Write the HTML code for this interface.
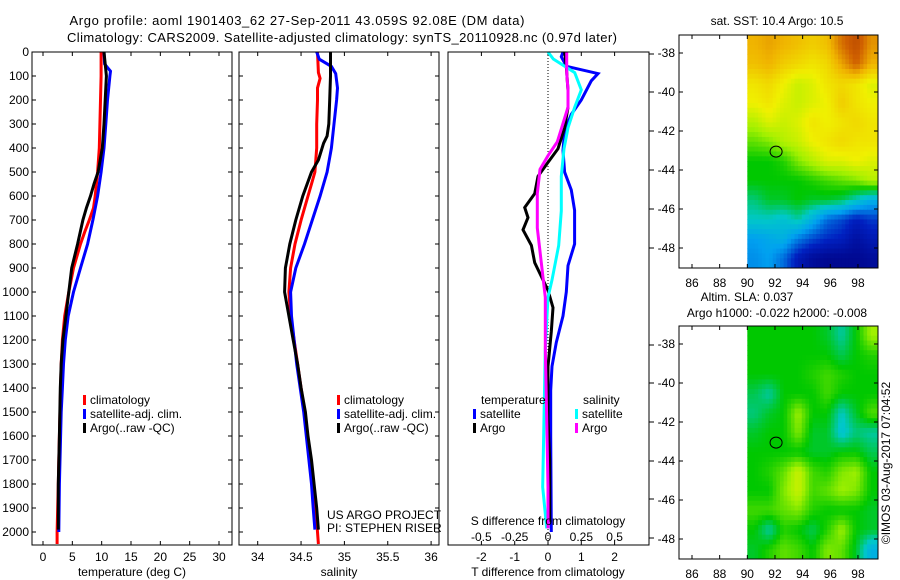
<!DOCTYPE html>
<html><head><meta charset="utf-8"><style>
html,body{margin:0;padding:0;background:#fff;}
svg{display:block;font-family:"Liberation Sans",Arial,sans-serif;}
text{font-size:12px;fill:#000;}
</style></head><body>
<svg id="fig" xmlns="http://www.w3.org/2000/svg" width="900" height="580" viewBox="0 0 900 580">
<rect width="900" height="580" fill="#fff"/>
<text x="297" y="25" text-anchor="middle" style="font-size:13px" textLength="455">Argo profile: aoml 1901403_62 27-Sep-2011 43.059S 92.08E (DM data)</text>
<text x="342" y="42" text-anchor="middle" style="font-size:13px" textLength="550">Climatology: CARS2009. Satellite-adjusted climatology: synTS_20110928.nc (0.97d later)</text>
<g id="layer"></g>
</svg>
<script>
// ---------- data ----------
const depthTicks=[0,100,200,300,400,500,600,700,800,900,1000,1100,1200,1300,1400,1500,1600,1700,1800,1900,2000];
const tTickLabels=[0,5,10,15,20,25,30];
const sTickLabels=[34,34.5,35,35.5,36];
const dtTickLabels=[-2,-1,0,1,2];
const dsTickLabels=[-0.5,-0.25,0,0.25,0.5];
const dsTickText=["-0.5","-0.25","0","0.25","0.5"];

const tClimDepth=[0,100,200,300,400,500,600,650,700,750,800,900,1000,1100,1200,1300,1400,1500,1600,1700,1800,1900,2000,2050];
const tClim=[9.9,9.9,9.8,9.7,9.6,9.3,8.9,8.6,7.9,7.1,6.4,5.2,4.4,3.7,3.3,3.1,3.0,2.9,2.8,2.7,2.6,2.5,2.4,2.4];
const tSatDepth=[0,50,65,80,100,200,300,400,500,600,700,800,900,1000,1100,1200,1300,1400,1500,1700,1800,2000];
const tSat=[10.4,10.5,11.0,11.5,11.4,11.0,10.7,10.4,9.9,9.3,8.5,7.6,6.4,5.2,4.3,3.8,3.5,3.3,3.1,2.9,2.8,2.7];
const tArgoDepth=[0,50,100,200,300,400,500,550,600,650,700,800,900,1000,1100,1200,1300,1400,1600,1800,1990];
const tArgo=[10.4,10.6,10.8,10.6,10.4,10.1,9.4,8.7,8.1,7.4,6.8,5.9,4.9,4.4,3.9,3.4,3.1,2.95,2.8,2.6,2.6];

const sClimDepth=[0,86,110,150,200,300,400,500,550,600,700,800,900,1000,1100,1200,1300,1400,1500,1600,1700,1800,1900,2000,2050];
const sClim=[34.69,34.70,34.72,34.69,34.69,34.68,34.68,34.66,34.62,34.58,34.50,34.43,34.38,34.36,34.38,34.42,34.46,34.50,34.54,34.57,34.61,34.64,34.67,34.69,34.70];
const sSatDepth=[0,30,60,90,150,200,300,400,500,600,700,800,900,1000,1100,1200,1300,1400,1500,1600,1700,1800,1900,1990];
const sSat=[34.68,34.71,34.85,34.90,34.92,34.91,34.88,34.85,34.80,34.72,34.63,34.54,34.44,34.38,34.39,34.42,34.45,34.49,34.53,34.56,34.59,34.62,34.64,34.66];
const sArgoDepth=[0,100,200,300,350,380,450,500,600,700,800,900,1000,1100,1200,1300,1400,1500,1600,1700,1800,1900,1990];
const sArgo=[34.84,34.84,34.83,34.82,34.80,34.76,34.70,34.62,34.52,34.44,34.37,34.32,34.31,34.36,34.41,34.46,34.50,34.55,34.58,34.62,34.65,34.68,34.70];

const dtSatDepth=[0,20,45,60,90,120,200,260,330,410,500,575,660,800,890,1000,1100,1210,1310,1410,1600,2000];
const dtSat=[0.45,0.4,0.5,0.57,1.5,1.3,1.0,0.7,0.5,0.45,0.5,0.7,0.8,0.8,0.6,0.55,0.45,0.25,0.12,0.08,0.08,0.1];
const dtArgoDepth=[0,60,160,230,316,403,460,518,590,648,690,741,806,878,935,993,1065,1165,1310,1525,1700,1957];
const dtArgo=[0.5,0.55,0.6,0.6,0.5,0.3,0.0,-0.3,-0.4,-0.7,-0.6,-0.75,-0.5,-0.4,-0.2,0.0,0.15,0.1,0.0,0.0,0.05,0.05];
const dsSatDepth=[0,29,86,158,230,316,403,518,662,806,950,1022,1237,1525,1813,1985];
const dsSat=[0.0,0.04,0.2,0.25,0.2,0.15,0.12,0.1,0.1,0.08,0.03,0.0,-0.02,-0.03,-0.04,-0.01];
const dsArgoDepth=[0,86,158,230,302,374,432,489,590,733,878,1022,1237,1525,1813,1985];
const dsArgo=[0.14,0.14,0.15,0.15,0.11,0.07,0.0,-0.06,-0.08,-0.08,-0.05,-0.02,-0.02,-0.01,0.0,0.0];

const mapLonTicks=[86,88,90,92,94,96,98];
const mapLatTicks=[-38,-40,-42,-44,-46,-48];
const sstGrid=[
[0.78,0.80,0.78,0.76,0.74,0.76,0.86,0.92,0.82],
[0.76,0.78,0.74,0.72,0.70,0.72,0.80,0.88,0.78],
[0.70,0.72,0.68,0.64,0.66,0.70,0.72,0.70,0.66],
[0.68,0.70,0.66,0.64,0.66,0.68,0.74,0.70,0.68],
[0.62,0.66,0.64,0.66,0.70,0.68,0.70,0.72,0.70],
[0.56,0.58,0.62,0.64,0.68,0.70,0.72,0.70,0.70],
[0.50,0.50,0.52,0.58,0.62,0.66,0.66,0.68,0.66],
[0.50,0.50,0.50,0.50,0.52,0.54,0.56,0.58,0.62],
[0.44,0.48,0.48,0.50,0.48,0.48,0.46,0.40,0.34],
[0.40,0.40,0.38,0.42,0.34,0.24,0.20,0.14,0.18],
[0.30,0.32,0.34,0.26,0.20,0.16,0.14,0.08,0.12],
[0.28,0.30,0.24,0.12,0.06,0.04,0.04,0.04,0.06]];
const slaGrid=[
[0.50,0.50,0.50,0.50,0.50,0.48,0.42,0.50,0.60],
[0.50,0.50,0.50,0.50,0.50,0.50,0.46,0.50,0.52],
[0.50,0.50,0.50,0.50,0.52,0.54,0.52,0.50,0.50],
[0.46,0.42,0.50,0.50,0.50,0.54,0.50,0.50,0.50],
[0.44,0.48,0.50,0.60,0.50,0.50,0.40,0.48,0.55],
[0.48,0.50,0.50,0.58,0.48,0.48,0.38,0.44,0.42],
[0.50,0.50,0.50,0.50,0.48,0.48,0.50,0.50,0.46],
[0.50,0.52,0.56,0.64,0.54,0.52,0.58,0.60,0.50],
[0.50,0.50,0.58,0.64,0.54,0.56,0.60,0.58,0.50],
[0.54,0.54,0.56,0.58,0.52,0.50,0.50,0.50,0.48],
[0.50,0.42,0.52,0.50,0.46,0.52,0.60,0.50,0.48],
[0.48,0.52,0.56,0.54,0.50,0.58,0.56,0.48,0.34]];
const argoLon=92.08, argoLat=-43.059;

// ---------- helpers ----------
const NS="http://www.w3.org/2000/svg";
const L=document.getElementById('layer');
function mk(tag,attrs,parent){const e=document.createElementNS(NS,tag);for(const k in attrs)e.setAttribute(k,attrs[k]);(parent||L).appendChild(e);return e;}
function txt(x,y,s,anchor,parent){const e=mk('text',{x:x,y:y,'text-anchor':anchor||'middle'},parent);e.textContent=s;return e;}
const yD=d=>52+0.24*d;
const PT={x0:32,x1:232,f:v=>43+v*5.867};
const PS={x0:239,x1:439,f:v=>257.7+(v-34)*86.7};
const PD={x0:448,x1:649,f:v=>548+v*33.3,fs:v=>548+v*133.3};
const TOP=52,BOT=545;

function line(depths,vals,fx,color,name,parent){
  const pts=depths.map((d,i)=>fx(vals[i]).toFixed(1)+','+yD(d).toFixed(1)).join(' ');
  const p=mk('polyline',{points:pts,fill:'none',stroke:color,'stroke-width':3,'stroke-linejoin':'miter'},parent);
  
  
}
function frame(P,name){
  const g=mk('g',{});
  
  
  return g;
}
function box(P,g){
  const r=mk('rect',{x:P.x0,y:TOP,width:P.x1-P.x0,height:BOT-TOP,fill:'none',stroke:'#000','stroke-width':1},g);
  
  
}
function depthSideTicks(P,g){
  depthTicks.forEach(d=>{
    mk('line',{x1:P.x0,x2:P.x0+4,y1:yD(d),y2:yD(d),stroke:'#000'},g);
    mk('line',{x1:P.x1-4,x2:P.x1,y1:yD(d),y2:yD(d),stroke:'#000'},g);
  });
}
function xTicks(vals,fx,g){
  vals.forEach(v=>{const x=fx(v);
    mk('line',{x1:x,x2:x,y1:TOP,y2:TOP+4,stroke:'#000'},g);
    mk('line',{x1:x,x2:x,y1:BOT-4,y2:BOT,stroke:'#000'},g);});
}
function legendEntry(x,y,color,label,g){
  const r=mk('rect',{x:x,y:y-5,width:3,height:10,fill:color},g);
  
  
  const t=txt(x+7,y+4,label,'start',g);
  
  
}

// ---------- panel 1: temperature ----------
const g1=frame(PT,'temperature-panel');
depthTicks.forEach(d=>{const t=txt(29,yD(d)+4,String(d),'end',g1);
  
  });
depthSideTicks(PT,g1);xTicks(tTickLabels,PT.f,g1);
tTickLabels.forEach(v=>{const t=txt(PT.f(v),561,String(v),'middle',g1);
  
  });
{const t=txt(132,576,'temperature (deg C)','middle',g1);}
line(tClimDepth,tClim,PT.f,'#ff0000','temp-climatology-line',g1);
line(tSatDepth,tSat,PT.f,'#0000ff','temp-satellite-line',g1);
line(tArgoDepth,tArgo,PT.f,'#000000','temp-argo-line',g1);
legendEntry(83,400,'#ff0000','climatology',g1);
legendEntry(83,414,'#0000ff','satellite-adj. clim.',g1);
legendEntry(83,428,'#000000','Argo(..raw -QC)',g1);
box(PT,g1);

// ---------- panel 2: salinity ----------
const g2=frame(PS,'salinity-panel');
depthSideTicks(PS,g2);xTicks(sTickLabels,PS.f,g2);
sTickLabels.forEach(v=>{const t=txt(PS.f(v),561,String(v),'middle',g2);
  
  });
{const t=txt(339,576,'salinity','middle',g2);}
line(sClimDepth,sClim,PS.f,'#ff0000','sal-climatology-line',g2);
line(sSatDepth,sSat,PS.f,'#0000ff','sal-satellite-line',g2);
line(sArgoDepth,sArgo,PS.f,'#000000','sal-argo-line',g2);
legendEntry(337,400,'#ff0000','climatology',g2);
legendEntry(337,414,'#0000ff','satellite-adj. clim.',g2);
legendEntry(337,428,'#000000','Argo(..raw -QC)',g2);
{const t=txt(327,519,'US ARGO PROJECT','start',g2);
 const t2=txt(327,532,'PI: STEPHEN RISER','start',g2);}
box(PS,g2);

// ---------- panel 3: differences ----------
const g3=frame(PD,'difference-panel');
xTicks(dtTickLabels,PD.f,g3);
[54,92,131,170,209,248,345,383,422,461,499,538].forEach(y=>mk('line',{x1:649,x2:654,y1:y,y2:y,stroke:'#000'},g3));
mk('line',{x1:548,x2:548,y1:TOP,y2:BOT,stroke:'#000','stroke-dasharray':'1,2'},g3);
line(dtSatDepth,dtSat,PD.f,'#0000ff','tdiff-satellite-line',g3);
line(dtArgoDepth,dtArgo,PD.f,'#000000','tdiff-argo-line',g3);
line(dsSatDepth,dsSat,PD.fs,'#00ffff','sdiff-satellite-line',g3);
line(dsArgoDepth,dsArgo,PD.fs,'#ff00ff','sdiff-argo-line',g3);
{const t=txt(481,404,'temperature','start',g3);
 const t2=txt(583,404,'salinity','start',g3);}
legendEntry(473,414,'#0000ff','satellite',g3);
legendEntry(473,428,'#000000','Argo',g3);
legendEntry(575,414,'#00ffff','satellite',g3);
legendEntry(575,428,'#ff00ff','Argo',g3);
{const t=txt(548,525,'S difference from climatology','middle',g3);}
dsTickLabels.forEach((v,i)=>{const t=txt(PD.fs(v),541,dsTickText[i],'middle',g3);
  
  });
dtTickLabels.forEach(v=>{const t=txt(PD.f(v),561,String(v),'middle',g3);
  
  });
{const t=txt(548,576,'T difference from climatology','middle',g3);}
box(PD,g3);

// ---------- maps ----------
const stops=[[0,[0,0,128]],[0.15,[0,32,192]],[0.3,[0,160,240]],[0.4,[0,200,200]],[0.5,[0,200,0]],[0.6,[160,240,0]],[0.68,[240,240,0]],[0.78,[240,180,0]],[0.88,[208,96,0]],[1,[160,48,0]]];
function cmap(t){for(let i=1;i<stops.length;i++){if(t<=stops[i][0]){const a=stops[i-1],b=stops[i],f=(t-a[0])/(b[0]-a[0]);
  return 'rgb('+a[1].map((c,k)=>Math.round(c+(b[1][k]-c)*f)).join(',')+')';}}return 'rgb(160,48,0)';}
const lonX=lon=>692+(lon-86)*13.83;
function sample(grid,r,c){
  const R=grid.length-1,C=grid[0].length-1;
  r=Math.max(0,Math.min(R,r));c=Math.max(0,Math.min(C,c));
  const r0=Math.floor(r),c0=Math.floor(c),r1=Math.min(R,r0+1),c1=Math.min(C,c0+1),fr=r-r0,fc=c-c0;
  return grid[r0][c0]*(1-fr)*(1-fc)+grid[r0][c1]*(1-fr)*fc+grid[r1][c0]*fr*(1-fc)+grid[r1][c1]*fr*fc;
}
function drawMap(grid,top,bot,lat38,lat48,name){
  const g=mk('g',{});
  
  
  const latY=lat=>lat38+(lat+38)*(lat48-lat38)/(-10);
  const x0=lonX(90),x1=878,rows=grid.length,cols=grid[0].length,sub=4;
  const cw=(x1-x0)/(cols*sub),ch=(bot-top)/(rows*sub);
  for(let r=0;r<rows*sub;r++)for(let c=0;c<cols*sub;c++){
    const v=sample(grid,(r+0.5)/sub-0.5,(c+0.5)/sub-0.5);
    const cell=mk('rect',{x:(x0+c*cw).toFixed(2),y:(top+r*ch).toFixed(2),width:(cw+0.5).toFixed(2),height:(ch+0.5).toFixed(2),fill:cmap(v)},g);
    
    
  }
  const circ=mk('ellipse',{cx:lonX(argoLon),cy:latY(argoLat),rx:6,ry:5.5,fill:'none',stroke:'#000','stroke-width':1},g);
  
  
  mapLonTicks.forEach(lon=>{const x=lonX(lon);
    mk('line',{x1:x,x2:x,y1:top,y2:top+4,stroke:'#000'},g);
    mk('line',{x1:x,x2:x,y1:bot-4,y2:bot,stroke:'#000'},g);
    const t=txt(x,bot+19,String(lon),'middle',g);
    
    });
  mapLatTicks.forEach(lat=>{const y=latY(lat);
    mk('line',{x1:679,x2:683,y1:y,y2:y,stroke:'#000'},g);
    mk('line',{x1:874,x2:878,y1:y,y2:y,stroke:'#000'},g);
    const t=txt(675,y+4,String(lat),'end',g);
    
    });
  mk('rect',{x:679,y:top,width:199,height:bot-top,fill:'none',stroke:'#000'},g);
}
drawMap(sstGrid,35,268,53,248,'sst-map');
drawMap(slaGrid,326,559,344,539,'sla-map');
{const t=txt(777,25,'sat. SST: 10.4 Argo: 10.5','middle');
 const t2=txt(747,301,'Altim. SLA: 0.037','middle');
 const t3=txt(777,317,'Argo h1000: -0.022 h2000: -0.008','middle');
 const t4=txt(0,0,'©IMOS 03-Aug-2017 07:04:52','middle');t4.setAttribute('transform','translate(890,463) rotate(-90)');
 }
</script>
</body></html>
